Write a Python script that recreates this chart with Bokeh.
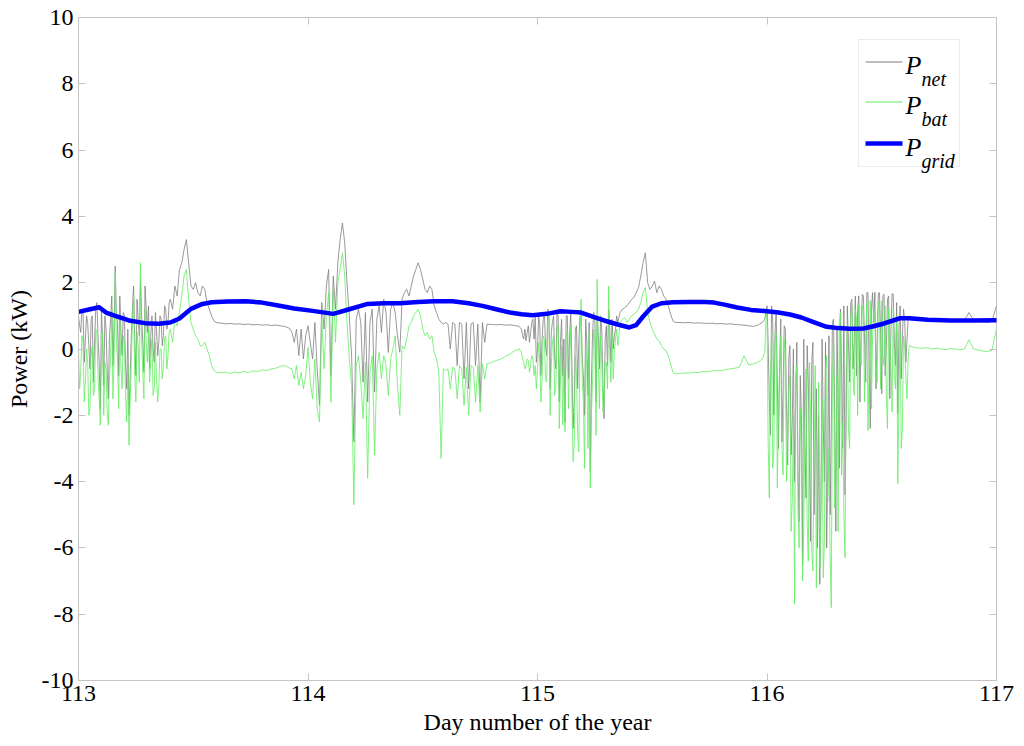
import numpy as np
from bokeh.plotting import figure
from bokeh.models import Range1d, FixedTicker, LinearAxis, Label, BoxAnnotation, CustomJSTickFormatter
from bokeh.embed import file_html
from bokeh.resources import INLINE

# ---------------- data ----------------
x_ticks = [113, 114, 115, 116, 117]
x_tick_labels = ["113", "114", "115", "116", "117"]
y_ticks = [-10, -8, -6, -4, -2, 0, 2, 4, 6, 8, 10]
y_tick_labels = ["-10", "-8", "-6", "-4", "-2", "0", "2", "4", "6", "8", "10"]

# segments of P_net / P_bat: (start day, step in days)
segA1_start, segA1_step = 113.00, 0.005
segA1_net = [1.0, 0.7, 0.5, 1.2, 1.1, -0.4, 0.3, 1.0, 0.8, 0.1,
             -0.6, 0.9, 1.0, -1.0, 0.2, 1.2, 1.4, 0.4, -0.4, -1.8,
             1.2, 0.3, -1.1, 1.0, 0.6, -0.6, -1.5, 0.4, 0.9, 1.6,
             -0.5, 0.7, 2.5, 1.0, 0.8, -0.8, 1.6, 0.5, -0.2, 1.1,
             1.0, -0.5, -1.2, 0.6, -2.0, -0.9, 0.4, 1.2, 1.9, 0.3,
             -0.8, 1.5, 0.9, 0.4, 2.1, 1.0, 0.2, -0.7, 1.9, 1.2,
             0.5, 1.3, -0.6, 0.4, 1.0, 0.0, -0.4, 1.1, 0.6, -0.2,
             0.2, 1.0, 0.9, 0.1, 0.4, 1.3, 1.2, 0.6, 0.8, 1.4]
segA1_bat = [0.0, -1.2, -0.6, 0.4, 0.2, -1.6, -1.0, 0.0, -0.4, -2.0,
             -1.8, -0.2, 0.1, -1.4, -1.2, 0.6, 0.5, -0.8, -1.5, -2.3,
             -0.3, 0.5, -2.0, -0.4, -0.6, -1.9, -2.3, -0.9, -0.2, 1.2,
             -1.5, -0.3, 2.3, 0.2, -0.3, -1.8, 0.8, -0.6, -1.2, 0.4,
             0.2, -1.4, -2.2, -0.5, -2.9, -1.6, -0.4, 0.8, 1.6, -0.8,
             -1.6, 0.5, 0.1, -1.0, 2.6, 0.3, -0.7, -1.5, 1.2, 0.2,
             -0.4, 0.6, -1.0, -0.3, 0.3, -1.4, -1.2, 0.2, -0.9, -1.6,
             -1.1, 0.0, 0.0, -0.9, -0.5, 0.3, 0.4, -0.6, -0.2, 0.5]

segA2_start, segA2_step = 113.40, 0.01
segA2_net = [1.5, 1.2, 1.9, 1.6, 2.4, 2.6, 3.0, 3.3, 2.6, 1.9,
             1.8, 2.0, 1.7, 1.6, 1.9, 1.8, 1.4, 1.2, 1.0, 0.85, 0.8]
segA2_bat = [0.6, 0.2, 0.9, 0.7, 1.1, 1.6, 2.2, 2.4, 1.5, 0.8,
             0.6, 0.4, 0.3, 0.1, 0.1, 0.2, 0.0, -0.2, -0.5, -0.65, -0.7]

segB_start, segB_step = 113.62, 0.02
segB_net = [0.78, 0.76, 0.77, 0.75, 0.76, 0.74, 0.75, 0.73, 0.74, 0.72,
            0.73, 0.71, 0.72, 0.70, 0.68, 0.62]
segB_bat = [-0.72, -0.70, -0.74, -0.69, -0.72, -0.68, -0.71, -0.66, -0.68, -0.63,
            -0.65, -0.60, -0.58, -0.52, -0.50, -0.58]

segC_start, segC_step = 113.93, 0.01
segC_net = [0.5, 0.2, 0.6, -0.2, 0.6, -0.3, 0.4,
            0.7, 0.2, -0.3, 0.8, -0.6, -1.7, 1.4, 0.6, 1.9, 2.4,
            -0.8, 2.2, 1.2, 2.6, 3.3, 3.8, 3.2, 2.0, 1.0, -0.2,
            -2.8, 0.9, 1.2, 0.8, -1.0, 1.1, -1.6, 0.8, 1.2, -1.3,
            0.9, 1.3, 0.5, 1.5, 1.1, -0.1, 1.2, 1.4, 1.1, 0.4,
            -0.1, 1.5, 1.7, 1.8, 1.6, 1.9, 2.2, 2.4, 2.6, 2.4,
            2.1, 1.8, 1.7, 1.9, 1.8, 1.3, 1.1, 0.9, 0.8, 0.75,
            0.8, 0.75, 0.0, 0.8, 0.75, -0.5, 0.8, 0.75, -0.9, 0.8,
            -1.2, 0.75, 0.8, -0.5, 0.75, -1.6, 0.8, 0.2, 0.75]
segC_bat = [-0.6, -0.9, -0.5, -1.1, -0.7, -1.2, -0.8,
            0.05, -1.0, -1.5, -0.3, -1.8, -2.2, 0.9, -0.6, 1.0, 1.7,
            -1.6, 1.9, 0.2, 2.0, 2.4, 2.9, 2.2, 0.8, -0.3, -1.1,
            -4.7, -0.5, -0.2, -1.0, -2.1, -0.4, -3.9, -0.7, -0.2, -3.2,
            -0.6, -0.1, -0.9, -0.2, -0.5, -1.4, -0.3, 0.0, 0.4, -1.1,
            -2.0, 0.1, 0.0, 0.3, 0.7, 0.8, 1.0, 1.1, 1.2, 1.0,
            0.6, 0.4, 0.5, 0.3, 0.4, -0.1, -0.3, -0.7, -3.3, -0.6,
            -0.65, -0.6, -1.2, -0.55, -0.6, -1.5, -0.5, -0.6, -1.7, -0.55,
            -2.0, -0.5, -0.55, -1.6, -0.5, -1.9, -0.45, -0.9, -0.45]

segD_start, segD_step = 114.80, 0.02
segD_net = [0.74, 0.73, 0.74, 0.72, 0.73, 0.71, 0.68]
segD_bat = [-0.40, -0.35, -0.30, -0.22, -0.15, -0.05, 0.0]

segE1_start, segE1_step = 114.93, 0.005
segE1_net = [0.6, 0.4, 0.3, 0.6, 0.25, 0.5, 0.7, 0.2, 0.5, 0.8,
             0.9, 0.3, 0.95, -0.4, 0.0, 1.0, 0.7, -0.8, 0.3, 0.9,
             1.1, 0.1, -0.2, 1.2, 0.9, -1.2, 0.5, 0.8, 1.0, -0.3,
             -0.6, 1.1, 1.0, -1.6, 0.2, 0.9, -0.8, 0.3, -2.2, 1.0,
             1.0, -0.9, 0.4, 1.1, -0.4, -2.4, -1.6, 0.6, 0.7, -1.2,
             0.2, 1.0, 1.0, -0.3, -0.8, -2.0, 0.9, 0.2, -1.4, 0.8,
             -3.7, -1.0, 0.5, 1.1, 0.9, -1.6, 1.0, 0.4, -0.6, 1.0,
             0.6, -1.0, -2.1, 0.3, 0.7, -0.5, 1.2, 0.6, -0.4, 0.9,
             0.0, 0.4, 0.6, 1.0, 0.8]
segE1_bat = [-0.1, -0.3, -0.4, -0.6, -0.5, -0.3, -0.35, -0.7, -0.45, -0.2,
             -0.3, -0.8, -0.5, -1.2, -0.6, 0.2, -0.4, -1.6, -0.85, 0.4,
             0.3, -0.9, -1.0, 0.9, 1.1, -2.0, -0.5, 0.2, 0.4, -1.4,
             -1.1, 0.6, 0.7, -2.4, -0.9, 0.1, -2.3, -0.6, -2.5, 0.4,
             0.5, -1.8, -0.4, 0.7, -1.5, -3.4, -2.8, -0.2, -0.8, -2.6,
             -3.1, 0.3, 1.5, -1.0, -1.6, -3.6, 0.0, -0.6, -3.0, 0.5,
             -4.2, -2.0, -0.9, 0.6, 0.2, -2.6, 2.1, -0.5, -1.8, 0.4,
             -0.3, -1.9, -1.7, -0.4, -0.4, -1.2, 1.9, -0.2, -1.0, 0.5,
             -0.9, -0.1, 0.3, 0.6, 0.1]

segE2_start, segE2_step = 115.36, 0.01
segE2_net = [1.1, 1.2, 1.25, 1.3, 1.4, 1.5, 1.55, 1.7, 1.85, 2.2,
             2.6, 2.9, 2.0, 1.8, 1.9, 2.05, 1.7, 1.9, 1.8, 1.6,
             1.5, 1.3, 1.05, 0.85, 0.8]
segE2_bat = [0.8, 0.9, 0.95, 0.8, 0.9, 1.0, 1.05, 1.1, 1.2, 1.4,
             1.7, 1.85, 1.1, 0.8, 0.6, 0.45, 0.3, 0.25, 0.1, 0.0,
             -0.05, -0.2, -0.45, -0.7, -0.75]

segF_start, segF_step = 115.62, 0.02
segF_net = [0.80, 0.79, 0.80, 0.78, 0.79, 0.78, 0.77, 0.78, 0.76, 0.77,
            0.75, 0.76, 0.74, 0.73, 0.72, 0.70, 0.68, 0.72, 0.80]
segF_bat = [-0.74, -0.72, -0.73, -0.70, -0.71, -0.68, -0.69, -0.66, -0.65, -0.66,
            -0.62, -0.60, -0.58, -0.55, -0.20, -0.48, -0.45, -0.40, -0.30]

segG_start, segG_step = 115.99, 0.005
segG_net = [0.9, 1.1, 1.3, 0.2, -1.5, -2.6, 1.3, 0.8, -2.0, 0.5,
            1.1, -1.0, -3.0, -0.5, 0.9, -2.8, -1.2, 0.7, 0.6, -1.8,
            -3.5, -0.3, 0.1, -3.2, -2.2, 0.0, -4.0, -1.5, 0.2, -3.6,
            -5.2, -0.8, -2.0, -6.5, 0.3, -2.8, -4.5, 0.1, -1.0, -3.4,
            -5.8, -0.4, 0.2, -5.0, -3.0, -1.2, -6.0, -2.0, -7.1, -4.6,
            0.3, -2.2, -4.0, 0.2, -6.0, -3.5, 0.4, -5.0, -2.5, 0.8,
            0.9, -2.0, -5.5, 0.6, -1.5, -3.6, 1.2, -0.6, -3.0, 1.3,
            -4.4, -2.0, 1.3, 0.2, -1.0, 1.4, 1.5, -0.6, 0.2, 1.6,
            -0.8, 1.2, 1.6, -1.6, 0.5, 1.65, 1.6, 0.3, -1.0, 1.7,
            1.7, -0.5, -2.4, 1.2, 1.7, 0.8, 1.71, -1.2, 0.3, 1.68,
            1.7, 0.5, -1.35, 1.6, 1.65, -0.8, 0.0, 1.5, 1.6, -1.5,
            0.6, 1.66, 1.66, 0.2, -0.5, 1.4, -1.95, 0.6, 1.3, -0.9,
            0.4, 1.2, 0.86, -0.4, 0.26, 0.9, 0.95]
segG_bat = [-0.1, 0.8, 1.2, -2.8, -4.5, -1.0, 0.6, -3.6, -3.0, 0.2,
            0.5, -4.2, -2.0, -0.6, 0.4, -2.9, -3.8, 0.3, -0.3, -4.0,
            -2.5, -1.2, -0.8, -5.5, -4.6, -2.0, -7.7, -0.9, -0.5, -4.8,
            -6.0, -1.8, -3.0, -7.0, -5.5, -2.4, -0.6, -5.2, -6.4, -0.4,
            -2.0, -6.0, -6.7, -3.4, -0.5, -7.2, -4.2, -1.0, -6.6, -5.0,
            -1.5, -6.9, -5.8, -0.6, -0.2, -4.6, -3.0, -6.2, -7.8, -1.0,
            0.3, -4.8, -4.0, -0.8, -5.5, 0.8, 1.1, -3.8, -2.2, -5.0,
            -6.3, -0.6, 0.7, -2.4, -3.0, 1.0, 1.3, -0.8, -1.4, 1.2,
            0.9, -2.0, 1.36, 0.2, -0.5, 1.3, 1.2, -1.6, 0.1, 1.4,
            -2.46, -0.6, 1.46, -1.8, 0.4, 1.2, 1.06, -0.3, -1.0, 1.4,
            1.3, -1.2, 1.46, -0.2, -0.5, 1.3, -1.5, -2.4, 1.2, 0.3,
            -0.4, -1.9, 1.26, -0.8, -1.2, 1.0, -4.07, -1.4, 0.5, -3.0,
            -2.36, 0.4, 0.06, -0.8, -1.5, -0.3, 0.1]

segH_start, segH_step = 116.64, 0.02
segH_net = [0.92, 0.90, 0.89, 0.90, 0.88, 0.87, 0.88, 0.86, 0.87, 0.86,
            0.85, 0.86, 1.10, 0.87, 0.85, 0.82, 0.80, 0.84, 1.30]
segH_bat = [0.05, 0.03, 0.02, 0.04, 0.0, 0.02, 0.0, -0.02, 0.01, 0.0,
            -0.02, 0.0, 0.28, 0.0, -0.03, -0.06, -0.08, -0.04, 0.60]

# P_grid (smooth)
grid_day = [113.00, 113.05, 113.09, 113.12, 113.16, 113.22, 113.29, 113.35, 113.40, 113.44,
            113.49, 113.54, 113.58, 113.65, 113.73, 113.80, 113.87, 113.94, 114.02, 114.11,
            114.18, 114.26, 114.33, 114.40, 114.48, 114.55, 114.63, 114.70, 114.76, 114.82,
            114.88, 114.93, 114.98, 115.04, 115.10, 115.15, 115.19, 115.24, 115.29, 115.35,
            115.40, 115.43, 115.46, 115.50, 115.54, 115.59, 115.66, 115.73, 115.77, 115.82,
            115.87, 115.93, 116.00, 116.05, 116.10, 116.15, 116.20, 116.26, 116.31, 116.36,
            116.42, 116.46, 116.51, 116.55, 116.58, 116.62, 116.70, 116.80, 116.90, 117.00]
p_grid = [1.12, 1.20, 1.26, 1.10, 1.00, 0.86, 0.78, 0.76, 0.80, 0.92,
          1.21, 1.36, 1.41, 1.43, 1.44, 1.40, 1.31, 1.22, 1.15, 1.06,
          1.20, 1.36, 1.38, 1.38, 1.42, 1.44, 1.44, 1.38, 1.30, 1.20,
          1.10, 1.05, 1.02, 1.06, 1.14, 1.12, 1.10, 0.98, 0.86, 0.74,
          0.65, 0.72, 0.98, 1.28, 1.38, 1.41, 1.42, 1.42, 1.40, 1.33,
          1.25, 1.18, 1.14, 1.10, 1.04, 0.95, 0.82, 0.67, 0.63, 0.61,
          0.62, 0.68, 0.77, 0.86, 0.93, 0.93, 0.88, 0.86, 0.86, 0.87]

segments_net = [(segA1_start, segA1_step, segA1_net), (segA2_start, segA2_step, segA2_net),
                (segB_start, segB_step, segB_net), (segC_start, segC_step, segC_net),
                (segD_start, segD_step, segD_net), (segE1_start, segE1_step, segE1_net),
                (segE2_start, segE2_step, segE2_net), (segF_start, segF_step, segF_net),
                (segG_start, segG_step, segG_net), (segH_start, segH_step, segH_net)]
segments_bat = [(segA1_start, segA1_step, segA1_bat), (segA2_start, segA2_step, segA2_bat),
                (segB_start, segB_step, segB_bat), (segC_start, segC_step, segC_bat),
                (segD_start, segD_step, segD_bat), (segE1_start, segE1_step, segE1_bat),
                (segE2_start, segE2_step, segE2_bat), (segF_start, segF_step, segF_bat),
                (segG_start, segG_step, segG_bat), (segH_start, segH_step, segH_bat)]


def build(segments):
    xs, ys = [], []
    for start, step, vals in segments:
        xs.extend((start + step * np.arange(len(vals))).tolist())
        ys.extend(vals)
    return xs, ys


day_net, p_net = build(segments_net)
day_bat, p_bat = build(segments_bat)

# ---------------- figure ----------------
FONT = "Liberation Serif"
AX_COLOR = "#c4c4c4"
TICK_SIZE = "24px"
LABEL_SIZE = "24px"

p = figure(width=1016, height=746,
           x_range=Range1d(113, 117), y_range=Range1d(-10, 10),
           output_backend="svg", toolbar_location=None,
           min_border_left=78, min_border_right=20,
           min_border_top=17, min_border_bottom=66,
           background_fill_color="white", border_fill_color="white")
p.grid.visible = False
p.outline_line_color = AX_COLOR
p.outline_line_width = 1

p.line(day_net, p_net, line_color="#808080", line_width=0.8)
p.line(day_bat, p_bat, line_color="#62ee62", line_width=0.8)
p.line(grid_day, p_grid, line_color="#0000ff", line_width=4.5,
       line_join="round", line_cap="round")

LABEL_JS = """
const i = tick_vals.indexOf(tick);
return i >= 0 ? tick_text[i] : "";
"""


def style_axis(ax, ticks, labels, show_labels=True):
    ax.ticker = FixedTicker(ticks=ticks)
    if show_labels:
        ax.formatter = CustomJSTickFormatter(args=dict(tick_vals=ticks, tick_text=labels),
                                             code=LABEL_JS)
    else:
        ax.formatter = CustomJSTickFormatter(code="return '';")
    ax.major_tick_in = 7
    ax.major_tick_out = 0
    ax.minor_tick_line_color = None
    ax.major_tick_line_color = AX_COLOR
    ax.axis_line_color = AX_COLOR
    ax.major_label_text_font = FONT
    ax.major_label_text_font_size = TICK_SIZE
    ax.major_label_text_font_style = "normal"
    ax.major_label_text_color = "black"
    ax.axis_label_text_font = FONT
    ax.axis_label_text_font_size = LABEL_SIZE
    ax.axis_label_text_font_style = "normal"
    ax.axis_label_text_color = "black"


xax = p.xaxis[0]
yax = p.yaxis[0]
style_axis(xax, x_ticks, x_tick_labels)
style_axis(yax, y_ticks, y_tick_labels)
xax.axis_label = "Day number of the year"
yax.axis_label = "Power (kW)"
xax.major_label_standoff = 5
xax.axis_label_standoff = 5
yax.major_label_standoff = 5
yax.axis_label_standoff = 7

top_ax = LinearAxis()
right_ax = LinearAxis()
style_axis(top_ax, x_ticks, x_tick_labels, show_labels=False)
style_axis(right_ax, y_ticks, y_tick_labels, show_labels=False)
for ax in (top_ax, right_ax):
    ax.axis_line_color = None
    ax.major_label_standoff = 0
p.add_layout(top_ax, "above")
p.add_layout(right_ax, "right")

# ---------------- legend (built from annotations, screen units in the frame) ----------------
def sbox(left, right, bottom, top, **kw):
    return BoxAnnotation(left=left, right=right, bottom=bottom, top=top,
                         left_units="screen", right_units="screen",
                         bottom_units="screen", top_units="screen", **kw)

p.add_layout(sbox(780, 881, 514, 641, fill_color="white", fill_alpha=1.0,
                  line_color="#c0c0c0", line_width=1))
legend_rows = [("net", "#808080", 1.0, 618.5), ("bat", "#62ee62", 1.0, 578.5),
               ("grid", "#0000ff", 4.5, 537.0)]
for sub, col, lw, yc in legend_rows:
    p.add_layout(sbox(787, 824, yc - lw / 2, yc + lw / 2, fill_color=col, fill_alpha=1.0,
                      line_color=None))
    p.add_layout(Label(x=827, y=yc - 3.5, x_units="screen", y_units="screen", text="P",
                       text_font=FONT, text_font_style="italic", text_font_size="26px",
                       text_baseline="alphabetic", text_align="left", text_color="black"))
    p.add_layout(Label(x=843, y=yc - 17, x_units="screen", y_units="screen", text=sub,
                       text_font=FONT, text_font_style="italic", text_font_size="20px",
                       text_baseline="alphabetic", text_align="left", text_color="black"))

open("out.html", "w").write(file_html(p, INLINE))
